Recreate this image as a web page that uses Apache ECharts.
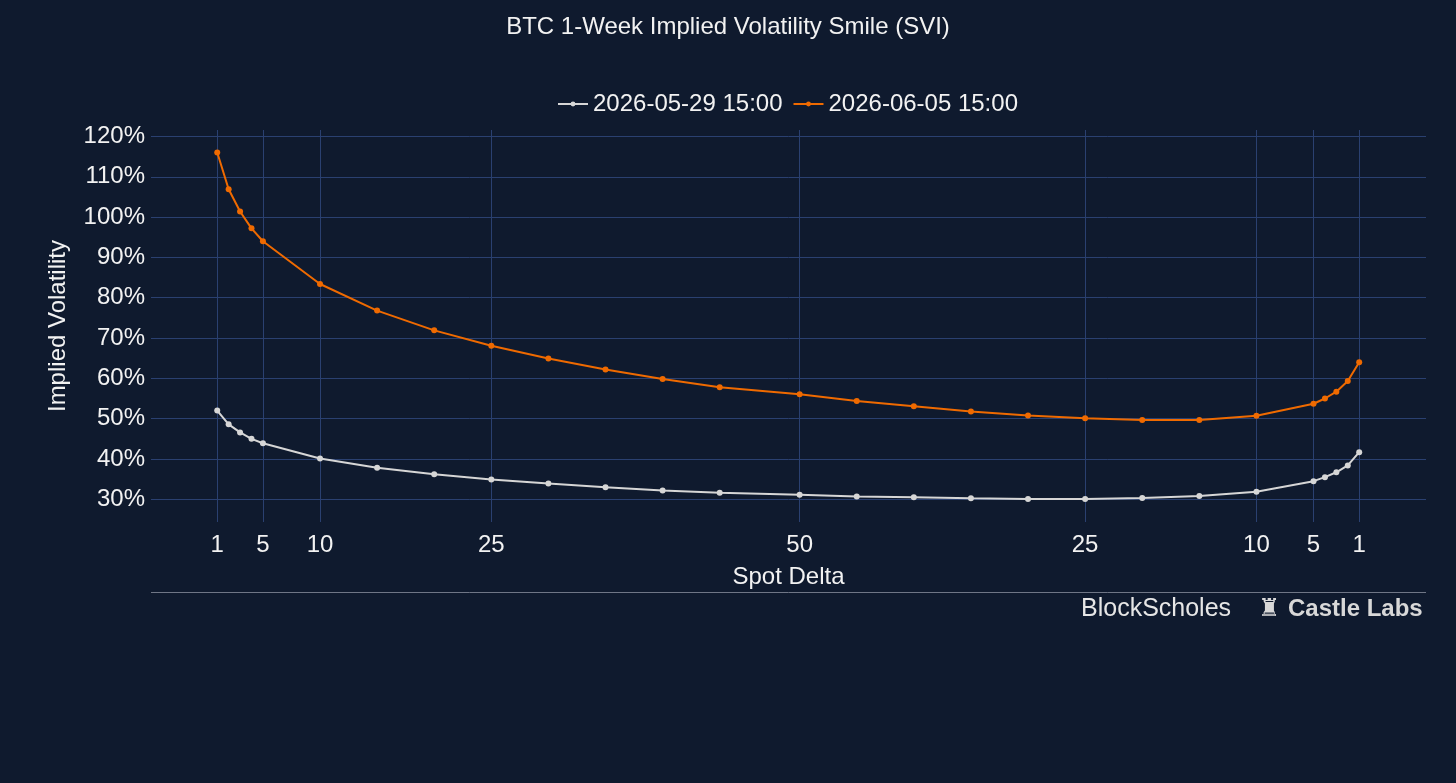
<!DOCTYPE html>
<html>
<head>
<meta charset="utf-8">
<title>BTC 1-Week Implied Volatility Smile (SVI)</title>
<script src="https://cdn.jsdelivr.net/npm/echarts@6/dist/echarts.min.js"></script>
<style>
  html, body { margin: 0; padding: 0; background: #0f1a2e; }
  #container { width: 1456px; height: 783px; }
</style>
</head>
<body>
<div id="container"></div>
<script>
// x position on the axis: put deltas sit at x = delta, call deltas at x = 102 - delta
var xPos = [1, 2, 3, 4, 5, 10, 15, 20, 25, 30, 35, 40, 45, 52, 57, 62, 67, 72, 77, 82, 87, 92, 97, 98, 99, 100, 101];

// implied vol (%)
var ivMay29 = [52.0, 48.6, 46.6, 45.0, 43.9, 40.1, 37.8, 36.2, 34.9, 33.9, 33.0, 32.2, 31.6, 31.1, 30.7, 30.5, 30.25, 30.1, 30.1, 30.3, 30.8, 31.9, 34.5, 35.5, 36.7, 38.4, 41.7];
var ivJun05 = [116.0, 106.9, 101.4, 97.2, 94.0, 83.4, 76.8, 71.9, 68.1, 64.9, 62.2, 59.85, 57.8, 56.05, 54.4, 53.1, 51.8, 50.8, 50.1, 49.7, 49.7, 50.7, 53.7, 55.0, 56.7, 59.35, 64.0];

var seriesNames = ['2026-05-29 15:00', '2026-06-05 15:00'];

// tick labels for the spot delta axis
var xTickPos = [1, 5, 10, 25, 52, 77, 92, 97, 101];
var xTickLabels = ['1', '5', '10', '25', '50', '25', '10', '5', '1'];
var yTicks = [30, 40, 50, 60, 70, 80, 90, 100, 110, 120];

var font = 'Liberation Sans, Arial, sans-serif';
var textColor = '#f2f2f2';
var gridColor = '#2a4070';

function pairs(ys) {
    return xPos.map(function (x, i) { return [x, ys[i]]; });
}

var dom = document.getElementById('container');
var myChart = echarts.init(dom, null, { renderer: 'canvas' });

var option = {
    backgroundColor: '#0f1a2e',
    animation: false,
    title: {
        text: 'BTC 1-Week Implied Volatility Smile (SVI)',
        left: 'center',
        top: 10,
        textStyle: { color: textColor, fontSize: 24, fontWeight: 'normal', fontFamily: font }
    },
    // legend sits centred over the plot area, not the page
    legend: {
        top: 87,
        left: 552,
        itemWidth: 30,
        itemHeight: 6,
        itemGap: 10,
        textStyle: { color: textColor, fontSize: 24, fontFamily: font },
        data: seriesNames
    },
    grid: { left: 151, right: 30, top: 130, bottom: 261, containLabel: false },
    xAxis: {
        type: 'value',
        min: -4.8,
        max: 106.85,
        name: 'Spot Delta',
        nameLocation: 'middle',
        nameGap: 43,
        nameTextStyle: { color: textColor, fontSize: 24, fontFamily: font },
        axisLine: { show: false },
        axisTick: { show: false, customValues: xTickPos },
        axisLabel: {
            customValues: xTickPos,
            color: textColor,
            fontSize: 24,
            fontFamily: font,
            margin: 11,
            formatter: function (v) {
                var i = xTickPos.indexOf(v);
                return i >= 0 ? xTickLabels[i] : '';
            }
        },
        splitLine: { show: true, lineStyle: { color: gridColor, width: 1 } }
    },
    yAxis: {
        type: 'value',
        min: 24.37,
        max: 121.6,
        name: 'Implied Volatility',
        nameLocation: 'middle',
        nameGap: 81,
        nameTextStyle: { color: textColor, fontSize: 24, fontFamily: font },
        axisLine: { show: false },
        axisTick: { show: false, customValues: yTicks },
        axisLabel: {
            customValues: yTicks,
            color: textColor,
            fontSize: 24,
            fontFamily: font,
            margin: 6,
            formatter: function (v) { return v + '%'; }
        },
        splitLine: { show: true, lineStyle: { color: gridColor, width: 1 } }
    },
    graphic: [
        {
            type: 'line',
            shape: { x1: 151, y1: 592.5, x2: 1426, y2: 592.5 },
            style: { stroke: '#6f7686', lineWidth: 1 }
        },
        {
            type: 'text',
            left: 1081,
            top: 597,
            style: { text: 'BlockScholes', fill: '#e6e6e6', font: '25px ' + font }
        },
        {
            type: 'text',
            left: 1258,
            top: 597,
            style: { text: '\u265C', fill: '#d8d8d8', font: '25px DejaVu Sans' }
        },
        {
            type: 'text',
            left: 1288,
            top: 597,
            style: { text: 'Castle Labs', fill: '#d8d8d8', font: 'bold 24px ' + font }
        }
    ],
    series: [
        {
            name: seriesNames[0],
            type: 'line',
            data: pairs(ivMay29),
            symbol: 'circle',
            symbolSize: 6,
            itemStyle: { color: '#d6d6d6' },
            lineStyle: { color: '#d6d6d6', width: 2 }
        },
        {
            name: seriesNames[1],
            type: 'line',
            data: pairs(ivJun05),
            symbol: 'circle',
            symbolSize: 6,
            itemStyle: { color: '#ef6a00' },
            lineStyle: { color: '#ef6a00', width: 2 }
        }
    ]
};

myChart.setOption(option, true);
</script>
</body>
</html>
